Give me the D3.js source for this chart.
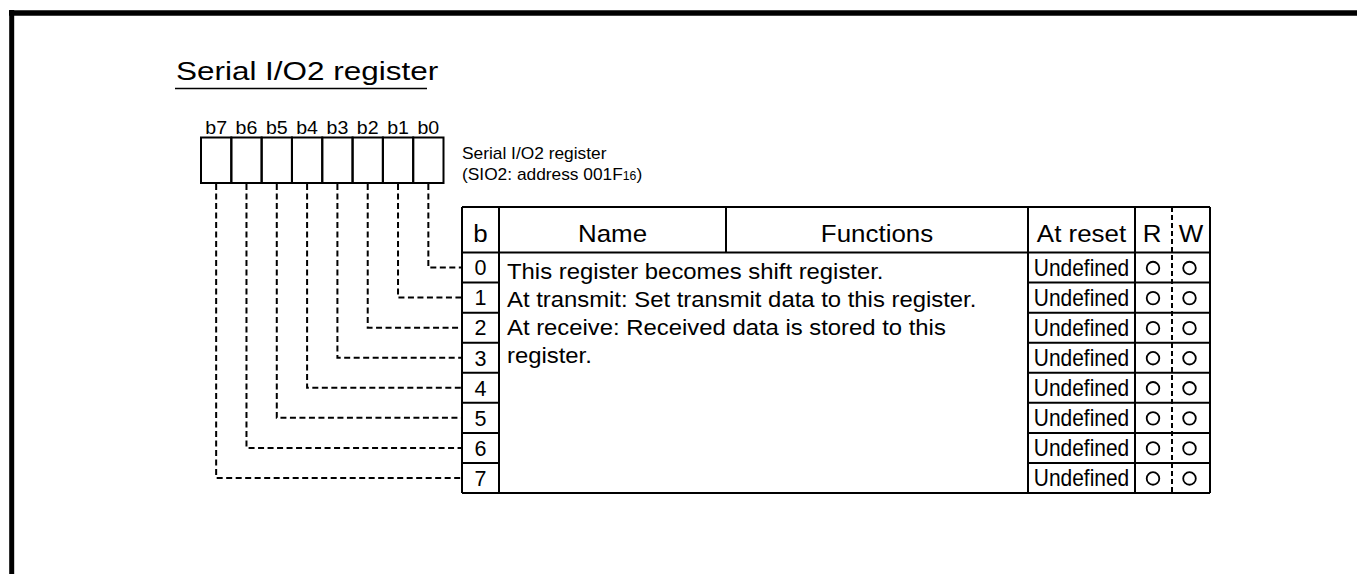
<!DOCTYPE html>
<html>
<head>
<meta charset="utf-8">
<script src="https://cdn.jsdelivr.net/npm/d3@7"></script>
<style>
  html, body { margin: 0; padding: 0; background: #fff; }
  svg { display: block; }
  text { font-family: "Liberation Sans", Arial, Helvetica, sans-serif; fill: #000; }
</style>
</head>
<body>
<svg id="chart" width="1357" height="574"></svg>
<script>
// ---------------- data ----------------
const titleText = "Serial I/O2 register";
const registerName = "Serial I/O2 register";
const registerAddress = ["(SIO2: address 001F", "16", ")"];
const bits = [7, 6, 5, 4, 3, 2, 1, 0];
const bitLabels = ["b7", "b6", "b5", "b4", "b3", "b2", "b1", "b0"];
const headers = ["b", "Name", "Functions", "At reset", "R", "W"];
const rowBits = [0, 1, 2, 3, 4, 5, 6, 7];
const resetValues = ["Undefined", "Undefined", "Undefined", "Undefined",
                     "Undefined", "Undefined", "Undefined", "Undefined"];
const readable = [true, true, true, true, true, true, true, true];
const writable = [true, true, true, true, true, true, true, true];
const functionLines = [
  "This register becomes shift register.",
  "At transmit: Set transmit data to this register.",
  "At receive: Received data is stored to this",
  "register."
];

// ---------------- layout ----------------
const svg = d3.select("#chart");
const LW = 2;

// frame
svg.append("line").attr("x1", 9).attr("x2", 1357).attr("y1", 13).attr("y2", 13)
  .attr("stroke", "#000").attr("stroke-width", 5.5);
svg.append("line").attr("x1", 11.7).attr("x2", 11.7).attr("y1", 10).attr("y2", 574)
  .attr("stroke", "#000").attr("stroke-width", 5);

function txt(g, x, y, s, size, sx, anchor) {
  return g.append("text")
    .attr("transform", `translate(${x},${y}) scale(${sx},1)`)
    .attr("font-size", size)
    .attr("text-anchor", anchor || "start")
    .text(s);
}

// title
txt(svg, 176, 79.5, titleText, 26, 1.21, "start");
svg.append("line").attr("x1", 175).attr("x2", 427).attr("y1", 88.5).attr("y2", 88.5)
  .attr("stroke", "#000").attr("stroke-width", 1.5);

// register bit boxes
const x = d3.scaleBand().domain(bits).range([201, 443.5]).padding(0);
const boxTop = 137.5, boxBottom = 183;
const gReg = svg.append("g");
gReg.selectAll("rect.bit").data(bits).join("rect")
  .attr("class", "bit")
  .attr("x", d => x(d)).attr("y", boxTop)
  .attr("width", x.bandwidth()).attr("height", boxBottom - boxTop)
  .attr("fill", "none").attr("stroke", "#000").attr("stroke-width", LW);
bits.forEach((b, i) => {
  txt(gReg, x(b) + x.bandwidth() / 2, 134, bitLabels[i], 17.5, 1.12, "middle");
});

// register name
txt(svg, 462, 159, registerName, 17, 1.02, "start");
const addr = svg.append("text")
  .attr("transform", "translate(462,180) scale(1.02,1)")
  .attr("font-size", 17);
addr.append("tspan").text(registerAddress[0]);
addr.append("tspan").attr("font-size", 12).text(registerAddress[1]);
addr.append("tspan").text(registerAddress[2]);

// table
const cols = [462, 499, 726, 1028, 1135, 1172, 1210];
const tableTop = 207, headBottom = 252.5, tableBottom = 493;
const y = d3.scaleBand().domain(rowBits).range([headBottom, tableBottom]).padding(0);
const gT = svg.append("g");
const line = (x1, y1, x2, y2, dash) => gT.append("line")
  .attr("x1", x1).attr("y1", y1).attr("x2", x2).attr("y2", y2)
  .attr("stroke", "#000").attr("stroke-width", LW)
  .attr("stroke-dasharray", dash || null);

// outer/structural lines
line(cols[0], tableTop, cols[6], tableTop);
line(cols[0], headBottom, cols[6], headBottom);
line(cols[0], tableBottom, cols[6], tableBottom);
line(cols[0], tableTop, cols[0], tableBottom);
line(cols[1], tableTop, cols[1], tableBottom);
line(cols[2], tableTop, cols[2], headBottom);
line(cols[3], tableTop, cols[3], tableBottom);
line(cols[4], tableTop, cols[4], tableBottom);
line(cols[5], tableTop, cols[5], tableBottom, "5,3");
line(cols[6], tableTop, cols[6], tableBottom);

// row separators (b column and reset/R/W columns)
rowBits.slice(1).forEach(r => {
  line(cols[0], y(r), cols[1], y(r));
  line(cols[3], y(r), cols[6], y(r));
});

// headers
const headCenters = [
  (cols[0] + cols[1]) / 2, (cols[1] + cols[2]) / 2, (cols[2] + cols[3]) / 2,
  (cols[3] + cols[4]) / 2, (cols[4] + cols[5]) / 2 - 1.5, (cols[5] + cols[6]) / 2
];
headers.forEach((h, i) => txt(gT, headCenters[i], 241.5, h, 24, 1.08, "middle"));

// rows
rowBits.forEach((r, i) => {
  const cy = y(r) + y.bandwidth() / 2;
  txt(gT, (cols[0] + cols[1]) / 2, cy + 7.8, String(r), 21.5, 1.0, "middle");
  txt(gT, (cols[3] + cols[4]) / 2, cy + 8.2, resetValues[i], 23, 0.91, "middle");
  if (readable[i]) gT.append("circle").attr("cx", (cols[4] + cols[5]) / 2 - 0.5).attr("cy", cy + 0.5)
    .attr("r", 6.3).attr("fill", "none").attr("stroke", "#000").attr("stroke-width", 1.8);
  if (writable[i]) gT.append("circle").attr("cx", (cols[5] + cols[6]) / 2 - 1.5).attr("cy", cy + 0.5)
    .attr("r", 6.3).attr("fill", "none").attr("stroke", "#000").attr("stroke-width", 1.8);
});

// function description
const descTop = y(rowBits[0]) + y.bandwidth() / 2 + 3.5, descStep = 28.2;
functionLines.forEach((s, i) => {
  txt(gT, 507, descTop + i * descStep + 7.5, s, 22, 1.085, "start");
});

// dashed leader lines from bit boxes to table rows
const gL = svg.append("g");
bits.forEach(b => {
  const cx = x(b) + x.bandwidth() / 2;
  const cy = y(b) + y.bandwidth() / 2;
  gL.append("path")
    .attr("d", d3.line()([[cx, boxBottom + 1], [cx, cy], [cols[0] - 1, cy]]))
    .attr("fill", "none").attr("stroke", "#000").attr("stroke-width", LW)
    .attr("stroke-dasharray", "6,3.5");
});
</script>
</body>
</html>
